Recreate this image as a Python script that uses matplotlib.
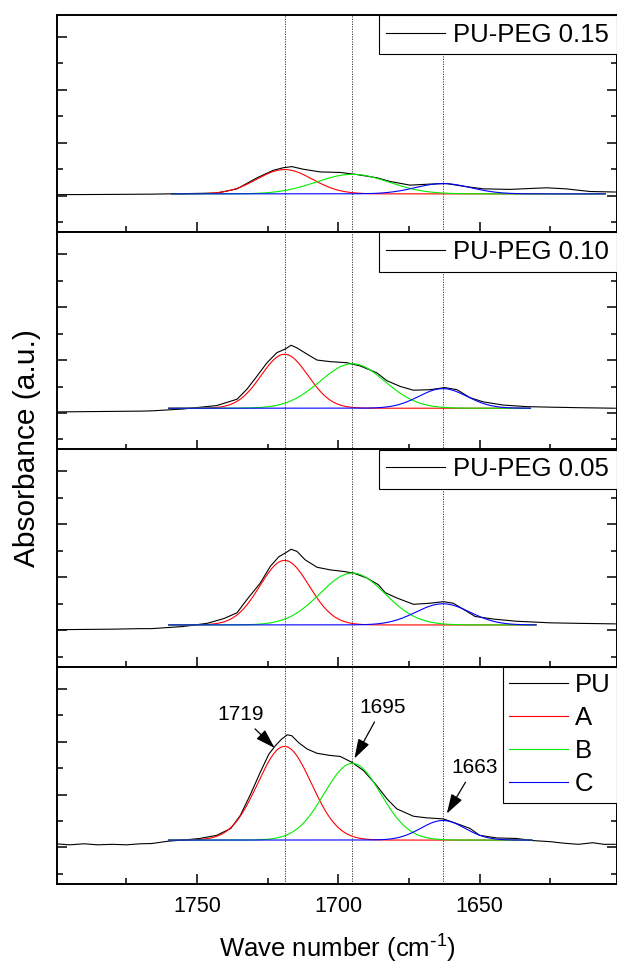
import matplotlib
matplotlib.use('Agg')
import matplotlib.pyplot as plt
import numpy as np
from matplotlib.ticker import MultipleLocator

plt.rcParams['font.family'] = ['Liberation Sans', 'DejaVu Sans']
plt.rcParams['mathtext.default'] = 'regular'

# panels from top to bottom
labels = ['PU-PEG 0.15', 'PU-PEG 0.10', 'PU-PEG 0.05', 'PU']

# measured spectra (wave number, absorbance a.u.)
wn_015 = [1800, 1780, 1766, 1743, 1735.8, 1728.7, 1723, 1719.4, 1716.4, 1712.3, 1706.4,
          1699.3, 1693.4, 1686.4, 1681.7, 1674.6, 1667.6, 1661.7, 1655.8, 1648.7,
          1639.3, 1626.3, 1619.4, 1611, 1602]
ab_015 = [0.02, 0.025, 0.03, 0.05, 0.13, 0.34, 0.48, 0.53, 0.55, 0.50, 0.45,
          0.44, 0.40, 0.34, 0.27, 0.20, 0.22, 0.23, 0.18, 0.13,
          0.12, 0.15, 0.13, 0.08, 0.07]

wn_010 = [1800, 1790, 1780, 1770, 1766, 1755, 1743, 1735.8, 1732.3, 1728.7, 1725.2,
          1721.7, 1718.7, 1716.7, 1714.6, 1711, 1707.5, 1702.8, 1697, 1692.3, 1686.4,
          1682.8, 1678, 1673.4, 1667.6, 1662.3, 1658, 1653.4, 1648.7, 1641.7, 1633.4,
          1625, 1615, 1602]
ab_010 = [0.02, 0.025, 0.03, 0.035, 0.04, 0.075, 0.14, 0.26, 0.45, 0.70, 0.95,
          1.14, 1.21, 1.28, 1.23, 1.11, 1.0, 0.97, 0.95, 0.89, 0.76,
          0.61, 0.50, 0.43, 0.44, 0.48, 0.44, 0.29, 0.21, 0.15, 0.12,
          0.11, 0.10, 0.09]

wn_005 = [1800, 1790, 1780, 1770, 1766, 1755, 1746.4, 1740.5, 1735.8, 1732.3, 1727.6,
          1724, 1721, 1718.7, 1716.7, 1714.6, 1711.7, 1707.5, 1702.8, 1698, 1694.6,
          1690, 1685.8, 1683.4, 1679.3, 1673.4, 1667.6, 1662.8, 1659.3, 1654.6, 1651.6,
          1645, 1637, 1625, 1615, 1602]
ab_005 = [0.01, 0.015, 0.02, 0.03, 0.03, 0.07, 0.13, 0.22, 0.33, 0.58, 0.89,
          1.21, 1.39, 1.46, 1.53, 1.49, 1.33, 1.19, 1.14, 1.11, 1.08,
          0.99, 0.86, 0.71, 0.61, 0.49, 0.51, 0.54, 0.51, 0.36, 0.26,
          0.21, 0.17, 0.14, 0.13, 0.12]

wn_pu = [1800, 1795, 1790, 1785, 1780, 1775, 1770, 1766, 1760, 1755, 1749, 1743, 1738,
         1734.6, 1731, 1727.6, 1724.6, 1722.3, 1720, 1718, 1716.4, 1714, 1711, 1707.5,
         1703, 1699.3, 1695.2, 1691, 1686.4, 1682.8, 1679.3, 1673.4, 1668.7, 1662.8,
         1658, 1653.4, 1650, 1644, 1637, 1631, 1625, 1620, 1615, 1610, 1606, 1602]
ab_pu = [0.07, 0.05, 0.07, 0.05, 0.06, 0.05, 0.07, 0.075, 0.12, 0.14, 0.17, 0.23, 0.36,
         0.61, 1.01, 1.42, 1.76, 1.92, 2.05, 2.13, 2.11, 1.98, 1.86, 1.78,
         1.74, 1.72, 1.61, 1.45, 1.17, 0.92, 0.73, 0.59, 0.56, 0.54,
         0.45, 0.36, 0.23, 0.18, 0.17, 0.13, 0.11, 0.08, 0.06, 0.09, 0.06, 0.06]

spectra_wn = [wn_015, wn_010, wn_005, wn_pu]
spectra_ab = [ab_015, ab_010, ab_005, ab_pu]

# fitted peaks A, B, C: centre, height above baseline, FWHM
centers = [1719, 1695, 1663]
heights = [[0.46, 0.37, 0.195],
           [1.02, 0.84, 0.37],
           [1.22, 0.98, 0.40],
           [1.77, 1.45, 0.37]]
fwhm = [[23, 30, 23],
        [19.5, 27, 20],
        [20.5, 27, 22.5],
        [22.3, 23.5, 18.3]]
fit_base = [0.035, 0.09, 0.10, 0.14]
fit_range = [(1759, 1605.5), (1760, 1632), (1760, 1630), (1760, 1631.5)]
peak_names = ['A', 'B', 'C']
peak_colors = ['#ff0000', '#00ee00', '#0000ff']

fig = plt.figure(figsize=(6.17, 9.67), dpi=100)
gs = fig.add_gridspec(4, 1, left=57/617, right=0.9995, top=1-15/967, bottom=1-884/967, hspace=0)

for i in range(4):
    ax = fig.add_subplot(gs[i])
    line, = ax.plot(spectra_wn[i], spectra_ab[i], color='k', lw=0.8, label=labels[i])
    x = np.linspace(fit_range[i][0], fit_range[i][1], 400)
    for j in range(3):
        s = fwhm[i][j] / 2.3548
        y = fit_base[i] + heights[i][j]*np.exp(-0.5*((x - centers[j])/s)**2)
        ax.plot(x, y, color=peak_colors[j], lw=0.8, label=peak_names[j])
    for c in centers:
        ax.axvline(c, color='0.15', lw=0.6, ls=(0, (1.5, 1.5)), zorder=0)

    ax.set_xlim(1799.5, 1601.5)
    ax.set_ylim(-0.69, 3.415)
    ax.xaxis.set_major_locator(MultipleLocator(50))
    ax.xaxis.set_minor_locator(MultipleLocator(25))
    ax.yaxis.set_major_locator(MultipleLocator(1))
    ax.yaxis.set_minor_locator(MultipleLocator(0.5))
    ax.tick_params(which='both', direction='in', left=True, right=True, top=False,
                   labelleft=False, width=1.1)
    ax.tick_params(which='major', length=7)
    ax.tick_params(which='minor', length=4.5)
    ax.tick_params(axis='x', labelsize=15.5, pad=9)
    for sp in ax.spines.values():
        sp.set_linewidth(1.4)

    if i < 3:
        ax.tick_params(labelbottom=False)
        leg = ax.legend(handles=[line], loc='upper right', fontsize=18.5, frameon=True,
                        fancybox=False, edgecolor='k', framealpha=1, borderaxespad=0,
                        borderpad=0.3, handlelength=2.3, handletextpad=0.3)
    else:
        leg = ax.legend(loc='upper right', fontsize=18.5, frameon=True,
                        fancybox=False, edgecolor='k', framealpha=1, borderaxespad=0,
                        borderpad=0.25, handlelength=2.3, handletextpad=0.25,
                        labelspacing=0.35)
        arrow = dict(arrowstyle='-|>,head_length=0.8,head_width=0.25', color='k', lw=0.9,
                     shrinkA=2, shrinkB=0)
        ax.annotate('1719', xy=(1722.5, 1.88), xytext=(1734.6, 2.51), fontsize=15,
                    ha='center', va='center', arrowprops=arrow)
        ax.annotate('1695', xy=(1694.3, 1.68), xytext=(1684.3, 2.65), fontsize=15,
                    ha='center', va='center', arrowprops=arrow)
        ax.annotate('1663', xy=(1661.6, 0.64), xytext=(1651.9, 1.51), fontsize=15,
                    ha='center', va='center', arrowprops=arrow)
    leg.get_frame().set_linewidth(0.8)

fig.text(337/617, 1-949/967, r'Wave number (cm$^{\text{-}1}$)', fontsize=18.5,
         ha='center', va='center')
fig.text(27/617, 1-448/967, 'Absorbance (a.u.)', fontsize=21.5, rotation=90,
         ha='center', va='center')

fig.savefig('out.png', dpi=100)
